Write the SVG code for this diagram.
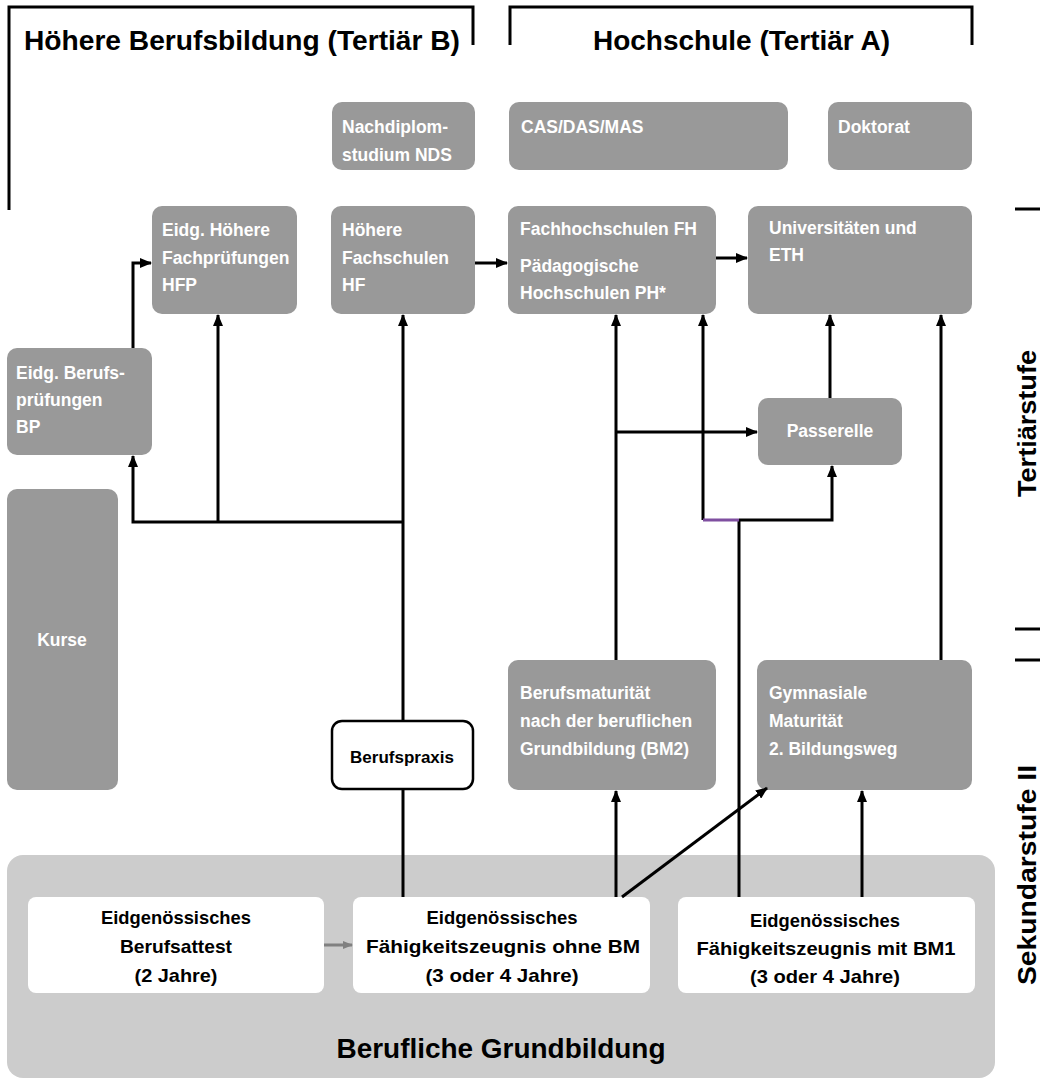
<svg xmlns="http://www.w3.org/2000/svg" width="1042" height="1080" viewBox="0 0 1042 1080">
<style>
.t{font-family:"Liberation Sans",Arial,sans-serif;font-weight:bold}
.g{fill:#999999}
.w{fill:#ffffff;font-size:17.5px}
.k{fill:#000000;font-size:17px}
.kb{fill:#000000;font-size:19px}
.c{text-anchor:middle}
.ln{fill:none;stroke:#000;stroke-width:3}
.br{fill:none;stroke:#000;stroke-width:3}
</style>
<defs>
<marker id="ah" markerWidth="12" markerHeight="10" refX="11" refY="5" orient="auto" markerUnits="userSpaceOnUse">
<path d="M0,0 L12,5 L0,10 Z" fill="#000"/>
</marker>
<marker id="ahg" markerWidth="10" markerHeight="8" refX="9" refY="4" orient="auto" markerUnits="userSpaceOnUse">
<path d="M0,0 L10,4 L0,8 Z" fill="#808080"/>
</marker>
</defs>
<rect width="1042" height="1080" fill="#ffffff"/>

<g id="headers">
<path class="br" d="M9,210 V7 H473 V45"/>
<path class="br" d="M510,45 V7 H972 V45"/>
<text class="t" x="24" y="50" style="font-size:28px" textLength="436" lengthAdjust="spacingAndGlyphs">Höhere Berufsbildung (Tertiär B)</text>
<text class="t" x="593" y="50" style="font-size:28px" textLength="297" lengthAdjust="spacingAndGlyphs">Hochschule (Tertiär A)</text>
</g>

<g id="stufen">
<path class="ln" d="M1015,209 H1040 M1015,629 H1040 M1015,660 H1040"/>
<text class="t" style="font-size:25px" transform="translate(1036,497) rotate(-90)" textLength="147" lengthAdjust="spacingAndGlyphs">Tertiärstufe</text>
<text class="t" style="font-size:25px" transform="translate(1036,985) rotate(-90)" textLength="220" lengthAdjust="spacingAndGlyphs">Sekundarstufe II</text>
</g>

<g id="grundbildung">
<rect x="7" y="855" width="988" height="223" rx="16" fill="#cccccc"/>
<text class="t c" x="501" y="1058" style="font-size:28px;fill:#000" textLength="329" lengthAdjust="spacingAndGlyphs">Berufliche Grundbildung</text>
</g>

<g id="nds"><rect class="g" x="332" y="102" width="143" height="68" rx="10"/>
<text class="t w" x="342" y="133">Nachdiplom-</text><text class="t w" x="342" y="161">studium NDS</text></g>
<g id="cas"><rect class="g" x="509" y="102" width="279" height="68" rx="10"/>
<text class="t w" x="521" y="133">CAS/DAS/MAS</text></g>
<g id="doktorat"><rect class="g" x="828" y="102" width="144" height="68" rx="10"/>
<text class="t w" x="838" y="133">Doktorat</text></g>

<g id="hfp"><rect class="g" x="152" y="206" width="145" height="108" rx="10"/>
<text class="t w" x="162" y="236">Eidg. Höhere</text><text class="t w" x="162" y="264">Fachprüfungen</text><text class="t w" x="162" y="291">HFP</text></g>
<g id="hf"><rect class="g" x="331" y="206" width="144" height="108" rx="10"/>
<text class="t w" x="342" y="236">Höhere</text><text class="t w" x="342" y="264">Fachschulen</text><text class="t w" x="342" y="291">HF</text></g>
<g id="fh"><rect class="g" x="508" y="206" width="208" height="108" rx="10"/>
<text class="t w" x="520" y="235">Fachhochschulen FH</text><text class="t w" x="520" y="272">Pädagogische</text><text class="t w" x="520" y="299">Hochschulen PH*</text></g>
<g id="uni"><rect class="g" x="748" y="206" width="224" height="108" rx="10"/>
<text class="t w" x="769" y="234">Universitäten und</text><text class="t w" x="769" y="261">ETH</text></g>
<g id="bp"><rect class="g" x="7" y="348" width="145" height="107" rx="10"/>
<text class="t w" x="16" y="379">Eidg. Berufs-</text><text class="t w" x="16" y="406">prüfungen</text><text class="t w" x="16" y="433">BP</text></g>
<g id="kurse"><rect class="g" x="7" y="489" width="111" height="301" rx="10"/>
<text class="t w c" x="62" y="646">Kurse</text></g>
<g id="passerelle"><rect class="g" x="758" y="398" width="144" height="67" rx="10"/>
<text class="t w c" x="830" y="437">Passerelle</text></g>
<g id="bm2"><rect class="g" x="508" y="660" width="208" height="130" rx="10"/>
<text class="t w" x="520" y="699">Berufsmaturität</text><text class="t w" x="520" y="727">nach der beruflichen</text><text class="t w" x="520" y="755">Grundbildung (BM2)</text></g>
<g id="gym"><rect class="g" x="757" y="660" width="215" height="130" rx="10"/>
<text class="t w" x="769" y="699">Gymnasiale</text><text class="t w" x="769" y="727">Maturität</text><text class="t w" x="769" y="755">2. Bildungsweg</text></g>
<g id="berufspraxis"><rect x="332" y="721" width="141" height="68" rx="10" fill="#ffffff" stroke="#000" stroke-width="2.5"/>
<text class="t k c" x="402" y="763">Berufspraxis</text></g>

<g id="eba"><rect x="28" y="897" width="296" height="96" rx="8" fill="#ffffff"/>
<text class="t kb c" x="176" y="924" textLength="150" lengthAdjust="spacingAndGlyphs">Eidgenössisches</text>
<text class="t kb c" x="176" y="953" textLength="112" lengthAdjust="spacingAndGlyphs">Berufsattest</text>
<text class="t kb c" x="176" y="982" textLength="83" lengthAdjust="spacingAndGlyphs">(2 Jahre)</text></g>
<g id="efz"><rect x="353" y="897" width="297" height="96" rx="8" fill="#ffffff"/>
<text class="t kb c" x="502" y="924" textLength="151" lengthAdjust="spacingAndGlyphs">Eidgenössisches</text>
<text class="t kb c" x="503" y="953" textLength="274" lengthAdjust="spacingAndGlyphs">Fähigkeitszeugnis ohne BM</text>
<text class="t kb c" x="502" y="982" textLength="153" lengthAdjust="spacingAndGlyphs">(3 oder 4 Jahre)</text></g>
<g id="efzbm1"><rect x="678" y="897" width="297" height="96" rx="8" fill="#ffffff"/>
<text class="t kb c" x="825" y="927" textLength="150" lengthAdjust="spacingAndGlyphs">Eidgenössisches</text>
<text class="t kb c" x="826" y="955" textLength="259" lengthAdjust="spacingAndGlyphs">Fähigkeitszeugnis mit BM1</text>
<text class="t kb c" x="825" y="983" textLength="150" lengthAdjust="spacingAndGlyphs">(3 oder 4 Jahre)</text></g>

<g id="connectors">
<path class="ln" d="M133,348 V263 H151" marker-end="url(#ah)"/>
<path class="ln" d="M403,522 H133 V456" marker-end="url(#ah)"/>
<path class="ln" d="M218,522 V315" marker-end="url(#ah)"/>
<path class="ln" d="M403,720 V315" marker-end="url(#ah)"/>
<path class="ln" d="M403,897 V790"/>
<path class="ln" d="M475,263 H507" marker-end="url(#ah)"/>
<path class="ln" d="M716,258 H747" marker-end="url(#ah)"/>
<path class="ln" d="M616,660 V315" marker-end="url(#ah)"/>
<path class="ln" d="M616,432 H757" marker-end="url(#ah)"/>
<path class="ln" d="M739,897 V520"/>
<path class="ln" d="M703,520 V315" marker-end="url(#ah)"/>
<path fill="none" stroke="#7f4fa0" stroke-width="3" d="M703,520 H739"/>
<path class="ln" d="M739,520 H832 V466" marker-end="url(#ah)"/>
<path class="ln" d="M830,398 V315" marker-end="url(#ah)"/>
<path class="ln" d="M941,660 V315" marker-end="url(#ah)"/>
<path class="ln" d="M616,897 V791" marker-end="url(#ah)"/>
<path class="ln" d="M862,897 V791" marker-end="url(#ah)"/>
<path class="ln" d="M622,897 L767,788" marker-end="url(#ah)"/>
<path fill="none" stroke="#808080" stroke-width="3" d="M324,945 H352" marker-end="url(#ahg)"/>
</g>
</svg>
